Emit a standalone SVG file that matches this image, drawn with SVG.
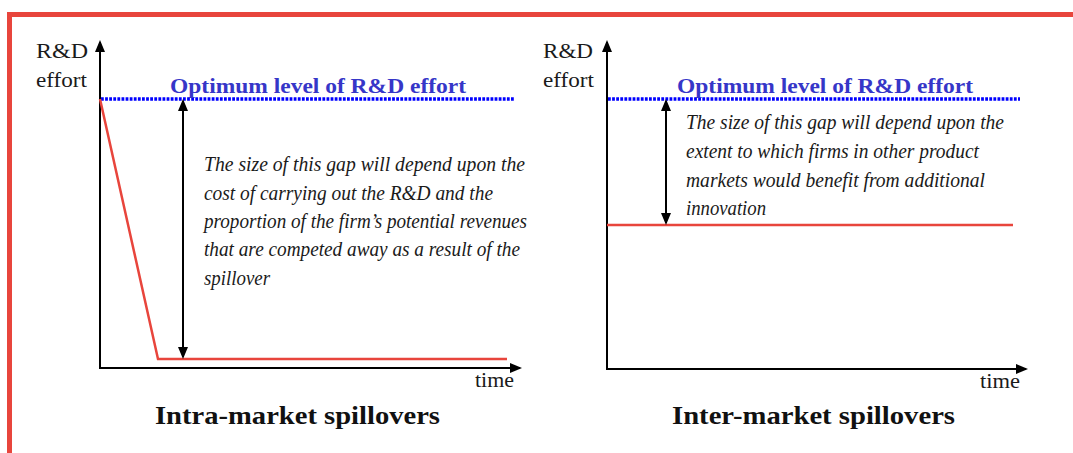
<svg xmlns="http://www.w3.org/2000/svg" width="1073" height="453" viewBox="0 0 1073 453">
<style>
.border{fill:#e8453c}
.axis{stroke:#000;stroke-width:2;fill:none}
.opt{stroke:#0000ff;stroke-width:3.5;stroke-dasharray:2.8 1.3;fill:none}
.curve{stroke:#e8453c;stroke-width:2.5;fill:none}
.gap{stroke:#000;stroke-width:2;fill:none}
.lbl{font-family:"Liberation Serif","Times New Roman",serif;font-size:20px;fill:#1a1a1a}
.optt{font-family:"Liberation Serif","Times New Roman",serif;font-size:21px;font-weight:bold;fill:#3636c8}
.note{font-family:"Liberation Serif","Times New Roman",serif;font-size:20px;font-style:italic;fill:#1a1a1a}
.title{font-family:"Liberation Serif","Times New Roman",serif;font-size:25px;font-weight:bold;fill:#111}
</style>
<defs>
<marker id="ah" markerUnits="userSpaceOnUse" markerWidth="12" markerHeight="10" refX="10" refY="5" orient="auto-start-reverse" viewBox="0 0 12 10">
<path d="M0,0 L12,5 L0,10 z" fill="#000"/>
</marker>
</defs>
<rect class="border" x="7" y="12" width="1066" height="5"/>
<rect class="border" x="7" y="12" width="5" height="441"/>

<g id="connectors">
<line class="axis" x1="100" y1="369" x2="100" y2="42" marker-end="url(#ah)"/>
<line class="axis" x1="99" y1="368" x2="520" y2="368" marker-end="url(#ah)"/>
<line class="opt" x1="101" y1="99" x2="515" y2="99"/>
<polyline class="curve" points="100,99 158,359 507,359"/>
<line class="gap" x1="183" y1="101" x2="183" y2="357" marker-start="url(#ah)" marker-end="url(#ah)"/>

<line class="axis" x1="607" y1="369" x2="607" y2="42" marker-end="url(#ah)"/>
<line class="axis" x1="606" y1="369" x2="1026" y2="369" marker-end="url(#ah)"/>
<line class="opt" x1="608" y1="99" x2="1020" y2="99"/>
<line class="curve" x1="607" y1="225" x2="1013" y2="225"/>
<line class="gap" x1="666" y1="101" x2="666" y2="223" marker-start="url(#ah)" marker-end="url(#ah)"/>
</g>

<g id="intra-chart">
<text class="lbl" x="36" y="58" textLength="52" lengthAdjust="spacingAndGlyphs">R&amp;D</text>
<text class="lbl" x="36" y="87" textLength="51" lengthAdjust="spacingAndGlyphs">effort</text>
<text class="optt" x="170" y="93" textLength="296" lengthAdjust="spacingAndGlyphs">Optimum level of R&amp;D effort</text>
<text class="note" x="204" y="171" textLength="321" lengthAdjust="spacingAndGlyphs">The size of this gap will depend upon the</text>
<text class="note" x="204" y="200" textLength="289" lengthAdjust="spacingAndGlyphs">cost of carrying out the R&amp;D and the</text>
<text class="note" x="204" y="228" textLength="323" lengthAdjust="spacingAndGlyphs">proportion of the firm’s potential revenues</text>
<text class="note" x="204" y="256" textLength="316" lengthAdjust="spacingAndGlyphs">that are competed away as a result of the</text>
<text class="note" x="204" y="285" textLength="66" lengthAdjust="spacingAndGlyphs">spillover</text>
<text class="lbl" x="475" y="387" textLength="39" lengthAdjust="spacingAndGlyphs">time</text>
<text class="title" x="155" y="424" textLength="285" lengthAdjust="spacingAndGlyphs">Intra-market spillovers</text>
</g>

<g id="inter-chart">
<text class="lbl" x="543" y="58" textLength="50" lengthAdjust="spacingAndGlyphs">R&amp;D</text>
<text class="lbl" x="543" y="87" textLength="51" lengthAdjust="spacingAndGlyphs">effort</text>
<text class="optt" x="677" y="93" textLength="296" lengthAdjust="spacingAndGlyphs">Optimum level of R&amp;D effort</text>
<text class="note" x="686" y="129" textLength="318" lengthAdjust="spacingAndGlyphs">The size of this gap will depend upon the</text>
<text class="note" x="686" y="158" textLength="293" lengthAdjust="spacingAndGlyphs">extent to which firms in other product</text>
<text class="note" x="686" y="187" textLength="299" lengthAdjust="spacingAndGlyphs">markets would benefit from additional</text>
<text class="note" x="686" y="215" textLength="80" lengthAdjust="spacingAndGlyphs">innovation</text>
<text class="lbl" x="980" y="388" textLength="40" lengthAdjust="spacingAndGlyphs">time</text>
<text class="title" x="672" y="424" textLength="283" lengthAdjust="spacingAndGlyphs">Inter-market spillovers</text>
</g>
</svg>
